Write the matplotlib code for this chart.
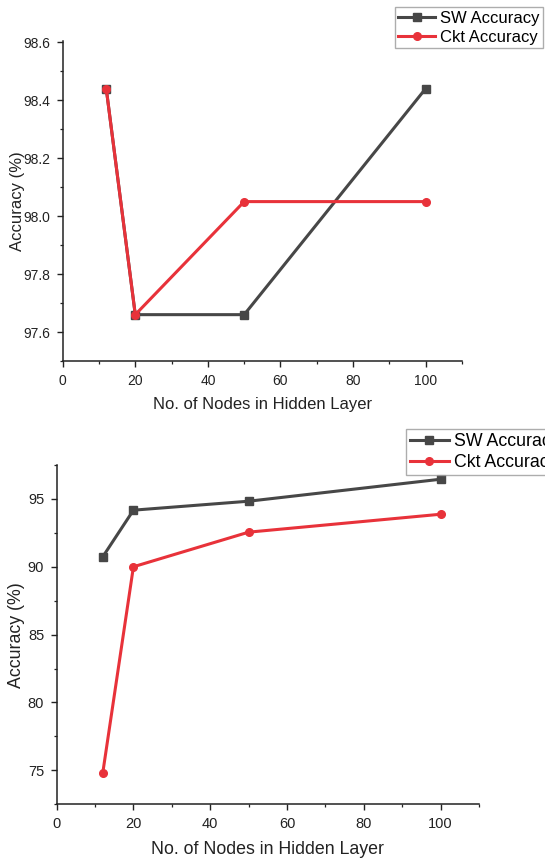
import matplotlib
matplotlib.use("Agg")
import matplotlib.pyplot as plt
from matplotlib.ticker import MultipleLocator, FormatStrFormatter

plt.rcParams['font.family'] = ['Liberation Sans', 'DejaVu Sans']

# hidden layer sizes
nodes = [12, 20, 50, 100]

# top panel
sw_top = [98.44, 97.66, 97.66, 98.44]
ckt_top = [98.44, 97.66, 98.05, 98.05]

# bottom panel
sw_bot = [90.73, 94.17, 94.83, 96.45]
ckt_bot = [74.78, 90.0, 92.55, 93.87]

sw_col = '#474747'
ckt_col = '#e8323a'

fig = plt.figure(figsize=(5.45, 8.59), dpi=100, facecolor='white')

ax1 = fig.add_axes([0.1150, 0.5797, 0.7327, 0.3729])
ax2 = fig.add_axes([0.1039, 0.0637, 0.7750, 0.3950])


def style(ax, ylo, yhi, ymaj, ymin, ylab_x, fs_tick, fs_lab):
    ax.set_xlim(0, 110)
    ax.set_ylim(ylo, yhi)
    ax.xaxis.set_major_locator(MultipleLocator(20))
    ax.xaxis.set_minor_locator(MultipleLocator(10))
    ax.yaxis.set_major_locator(MultipleLocator(ymaj))
    ax.yaxis.set_minor_locator(MultipleLocator(ymin))
    ax.spines['top'].set_visible(False)
    ax.spines['right'].set_visible(False)
    for s in ('left', 'bottom'):
        ax.spines[s].set_linewidth(1.1)
        ax.spines[s].set_color('#222222')
    ax.tick_params(which='major', direction='out', length=4, width=1.0,
                   labelsize=fs_tick, colors='#222222', pad=5)
    ax.tick_params(which='minor', direction='out', length=2.5, width=0.9,
                   colors='#222222')
    ax.set_xlabel('No. of Nodes in Hidden Layer', fontsize=fs_lab, labelpad=7,
                  color='#222222')
    ax.set_ylabel('Accuracy (%)', fontsize=fs_lab, color='#222222')
    ax.yaxis.set_label_coords(ylab_x, 0.5)


ax1.plot(nodes, sw_top, color=sw_col, lw=2.2, marker='s', ms=5.5,
         label='SW Accuracy')
ax1.plot(nodes, ckt_top, color=ckt_col, lw=2.2, marker='o', ms=5.5,
         label='Ckt Accuracy')
style(ax1, 97.5, 98.605, 0.2, 0.1, -0.094, 10, 12)
ax1.yaxis.set_major_formatter(FormatStrFormatter('%.1f'))

ax2.plot(nodes, sw_bot, color=sw_col, lw=2.2, marker='s', ms=5.5,
         label='SW Accuracy')
ax2.plot(nodes, ckt_bot, color=ckt_col, lw=2.2, marker='o', ms=5.5,
         label='Ckt Accuracy')
style(ax2, 72.5, 97.5, 5, 2.5, -0.075, 10.5, 12.8)

# legends sit above the plot area, the lower one runs past the right edge
for ax, anchor, fs in ((ax1, (0.7248, 0.9915), 12),
                       (ax2, (0.7450, 0.5002), 12.8)):
    leg = fig.legend(*ax.get_legend_handles_labels(), loc='upper left',
                     bbox_to_anchor=anchor, fontsize=fs, frameon=True,
                     fancybox=False, handlelength=2.2, handletextpad=0.3,
                     borderpad=0.2, labelspacing=0.25, borderaxespad=0)
    leg.get_frame().set_edgecolor('#999999')
    leg.get_frame().set_linewidth(1.0)

fig.savefig('out.png', dpi=100)
